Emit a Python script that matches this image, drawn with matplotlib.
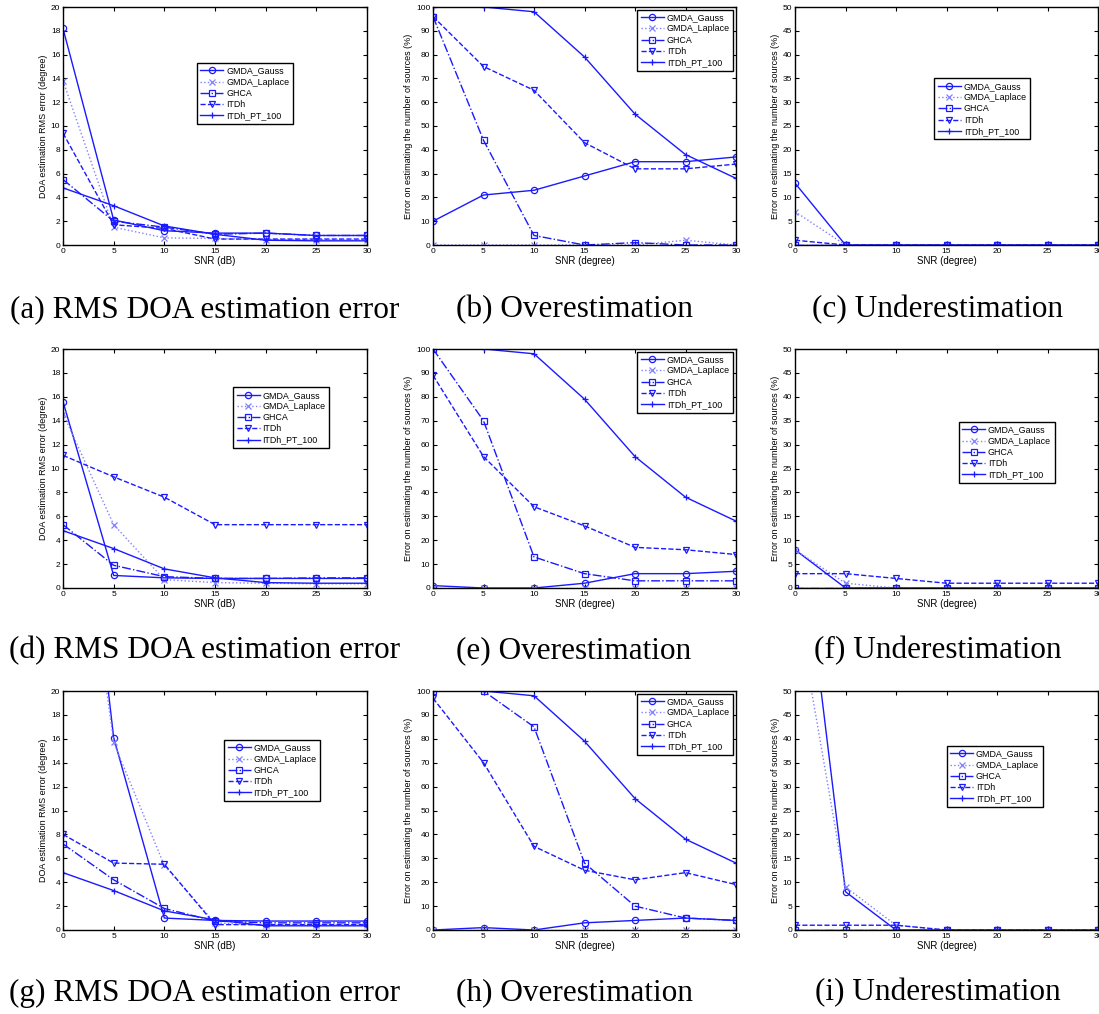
#!/usr/bin/env python3
"""
3x3 grid: DOA RMS error, over- and underestimation vs SNR
"""
import matplotlib
matplotlib.use("Agg")
import matplotlib.pyplot as plt

snr = [0, 5, 10, 15, 20, 25, 30]
names = ["GMDA_Gauss", "GMDA_Laplace", "GHCA", "ITDh", "ITDh_PT_100"]

# row 1
rms_a = [[18.2, 2.1, 1.2, 1.0, 1.0, 0.8, 0.8],
         [13.8, 1.5, 0.6, 0.55, 0.45, 0.45, 0.4],
         [5.5, 2.0, 1.5, 0.9, 1.0, 0.8, 0.8],
         [9.4, 1.7, 1.4, 0.5, 0.5, 0.5, 0.5],
         [4.8, 3.3, 1.6, 0.9, 0.4, 0.35, 0.35]]
over_b = [[10, 21, 23, 29, 35, 35, 37],
          [0, 0, 0, 0, 0, 2, 0],
          [96, 44, 4, 0, 1, 0, 0],
          [96, 75, 65, 43, 32, 32, 34],
          [100, 100, 98, 79, 55, 38, 28]]
under_c = [[13, 0, 0, 0, 0, 0, 0],
           [7, 0, 0, 0, 0, 0, 0],
           [0, 0, 0, 0, 0, 0, 0],
           [1, 0, 0, 0, 0, 0, 0],
           [0, 0, 0, 0, 0, 0, 0]]

# row 2
rms_d = [[15.6, 1.05, 0.85, 0.8, 0.8, 0.8, 0.8],
         [14.6, 5.3, 0.7, 0.45, 0.4, 0.35, 0.35],
         [5.3, 1.9, 0.95, 0.8, 0.8, 0.85, 0.85],
         [11.1, 9.3, 7.6, 5.3, 5.3, 5.3, 5.3],
         [4.8, 3.3, 1.6, 0.85, 0.45, 0.4, 0.4]]
over_e = [[1, 0, 0, 2, 6, 6, 7],
          [0, 0, 0, 0, 0, 0, 0],
          [100, 70, 13, 6, 3, 3, 3],
          [89, 55, 34, 26, 17, 16, 14],
          [100, 100, 98, 79, 55, 38, 28]]
under_f = [[8, 0, 0, 0, 0, 0, 0],
           [8, 1, 0, 0, 0, 0, 0],
           [0, 0, 0, 0, 0, 0, 0],
           [3, 3, 2, 1, 1, 1, 1],
           [0, 0, 0, 0, 0, 0, 0]]

# row 3
rms_g = [[53, 16.1, 1.0, 0.8, 0.75, 0.75, 0.75],
         [47, 15.7, 5.4, 0.6, 0.4, 0.4, 0.4],
         [7.2, 4.2, 1.8, 0.75, 0.6, 0.6, 0.6],
         [8.0, 5.6, 5.5, 0.45, 0.45, 0.45, 0.45],
         [4.8, 3.3, 1.6, 0.85, 0.35, 0.35, 0.35]]
over_h = [[0, 1, 0, 3, 4, 5, 4],
          [0, 0, 0, 0, 0, 0, 0],
          [100, 100, 85, 28, 10, 5, 4],
          [97, 70, 35, 25, 21, 24, 19],
          [100, 100, 98, 79, 55, 38, 28]]
under_i = [[95, 8, 0, 0, 0, 0, 0],
           [70, 9, 1, 0, 0, 0, 0],
           [0, 0, 0, 0, 0, 0, 0],
           [1, 1, 1, 0, 0, 0, 0],
           [0, 0, 0, 0, 0, 0, 0]]

captions = ["(a) RMS DOA estimation error", "(b) Overestimation", "(c) Underestimation",
            "(d) RMS DOA estimation error", "(e) Overestimation", "(f) Underestimation",
            "(g) RMS DOA estimation error", "(h) Overestimation", "(i) Underestimation"]

styles = [dict(ls="-", marker="o", color="#1a1aff"),
          dict(ls=":", marker="x", color="#8080ff"),
          dict(ls="-.", marker="s", color="#1a1aff"),
          dict(ls="--", marker="v", color="#1a1aff"),
          dict(ls="-", marker="+", color="#1a1aff")]

W, H = 1099, 1014
fig = plt.figure(figsize=(W / 100, H / 100), dpi=100)
plt.rcParams["font.family"] = ["Liberation Sans", "DejaVu Sans"]

cols = [(63, 367), (433, 736), (795, 1098)]
rows = [(7, 245), (349, 588), (691, 930)]
cap_x = [205, 574, 938]
cap_y = [310, 651, 993]

panels = [rms_a, over_b, under_c, rms_d, over_e, under_f, rms_g, over_h, under_i]
ylims = [20, 100, 50]
ysteps = [2, 10, 5]
ylabels = ["DOA estimation RMS error (degree)",
           "Error on estimating the number of sources (%)",
           "Error on estimating the number of sources (%)"]
xlabels = ["SNR (dB)", "SNR (degree)", "SNR (degree)"]
# legend upper-left corner in axes fraction (None -> upper right)
leg_pos = [(0.44, 0.765), None, (0.46, 0.70),
           (0.56, 0.84), None, (0.54, 0.695),
           (0.53, 0.795), None, (0.50, 0.77)]

for k, data in enumerate(panels):
    r, c = divmod(k, 3)
    x0, x1 = cols[c]
    y0, y1 = rows[r]
    ax = fig.add_axes([x0 / W, 1 - y1 / H, (x1 - x0) / W, (y1 - y0) / H])
    for vals, name, st in zip(data, names, styles):
        ax.plot(snr, vals, label=name, lw=1.0, ms=4.5, mfc="none", mew=0.9, **st)
    ax.set_xlim(0, 30)
    ax.set_ylim(0, ylims[c])
    ax.set_xticks(range(0, 31, 5))
    ax.set_yticks(range(0, ylims[c] + 1, ysteps[c]))
    ax.tick_params(direction="in", top=True, right=True, labelsize=6, length=3, pad=2)
    ax.set_xlabel(xlabels[c], fontsize=7, labelpad=1)
    ax.set_ylabel(ylabels[c], fontsize=6.5, labelpad=2)
    for sp in ax.spines.values():
        sp.set_linewidth(1.0)
    common = dict(fontsize=6.4, handlelength=2.6, labelspacing=0.25,
                  handletextpad=0.3, fancybox=False, framealpha=1)
    if leg_pos[k] is None:
        leg = ax.legend(loc="upper right", borderaxespad=0.3, **common)
    else:
        leg = ax.legend(loc="upper left", bbox_to_anchor=leg_pos[k],
                        borderaxespad=0, **common)
    leg.get_frame().set_edgecolor("black")
    leg.get_frame().set_linewidth(1.0)
    fig.text(cap_x[c] / W, 1 - cap_y[r] / H, captions[k], ha="center", va="center",
             fontsize=22.5, family=["Liberation Serif", "DejaVu Serif"])

fig.savefig("out.png", dpi=100)
